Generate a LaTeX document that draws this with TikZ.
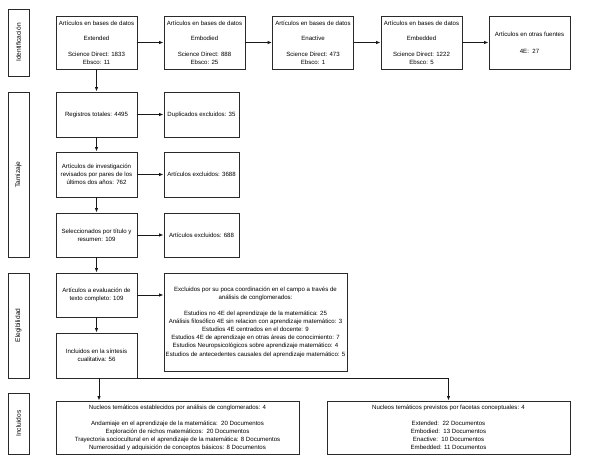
\documentclass[tikz,border=0pt]{standalone}
\usepackage{fontspec}
\setmainfont{Liberation Sans}
\usetikzlibrary{arrows.meta}
\definecolor{bordc}{HTML}{2A2A2A}
\begin{document}
\begin{tikzpicture}[x=1pt,y=-1pt,
  box/.style={draw=bordc,line width=0.9pt,inner sep=1pt,align=center,
    font=\fontsize{6.1}{7.8}\selectfont,text=black},
  sidebox/.style={draw=bordc,line width=0.9pt,inner sep=0pt,minimum width=21pt},
  sidelabel/.style={rotate=90,font=\fontsize{6.6}{8}\selectfont,text=black},
  conn/.style={draw=black!90,line width=0.9pt,-{Latex[length=4.5pt,width=3.5pt]}}]
\useasboundingbox (0,0) rectangle (589,470);
\fill[white] (0,0) rectangle (589,470);
% side boxes
\node[sidebox,minimum height=67pt] (sid) at (18.5,42.5) {};
\node[sidelabel] (sidt) at (sid.center) {Identificación};
\node[sidebox,minimum height=165pt] (stam) at (18.5,174.5) {};
\node[sidelabel] (stamt) at (stam.center) {Tamizaje};
\node[sidebox,minimum height=105pt] (seleg) at (18.5,325.5) {};
\node[sidelabel] (selegt) at (seleg.center) {Elegibilidad};
\node[sidebox,minimum height=61pt] (sinc) at (18.5,423.5) {};
\node[sidelabel] (sinct) at (sinc.center) {Incluidos};
% row 1
\tikzset{r1/.style={box,minimum width=81pt,minimum height=53pt}}
\node[r1] (e1) at (96.5,42.5) {Artículos en bases de datos\\[7.8pt]Extended\\[7.8pt]Science Direct: 1833\\Ebsco: 11};
\node[r1] (e2) at (204.5,42.5) {Artículos en bases de datos\\[7.8pt]Embodied\\[7.8pt]Science Direct: 888\\Ebsco: 25};
\node[r1] (e3) at (313,42.5) {Artículos en bases de datos\\[7.8pt]Enactive\\[7.8pt]Science Direct: 473\\Ebsco: 1};
\node[r1] (e4) at (421.5,42.5) {Artículos en bases de datos\\[7.8pt]Embedded\\[7.8pt]Science Direct: 1222\\Ebsco: 5};
\node[r1] (e5) at (529.5,42.5) {Artículos en otras fuentes\\[9pt]4E:~~27};
% screening
\tikzset{lb/.style={box,minimum width=81pt,minimum height=45pt},
         rb/.style={box,minimum width=75pt,minimum height=45pt}}
\node[lb] (reg) at (96.5,114.5) {Registros totales: 4495};
\node[rb] (dup) at (201.5,114.5) {Duplicados excluidos: 35};
\node[lb] (art) at (96.5,174.5) {Artículos de investigación\\revisados por pares de los\\últimos dos años: 762};
\node[rb] (ex1) at (201.5,174.5) {Artículos excluidos: 3688};
\node[lb,minimum height=44pt] (sel) at (96.5,235) {Seleccionados por título y\\resumen: 109};
\node[rb,minimum height=44pt] (ex2) at (201.5,235) {Artículos excluidos: 688};
% eligibility
\node[lb,minimum height=44pt] (eva) at (96.5,295) {Artículos a evaluación de\\texto completo: 109};
\node[lb] (inc) at (96.5,355.5) {Incluidos en la síntesis\\cualitativa: 56};
\node[box,minimum width=183pt,minimum height=98pt,font=\fontsize{6.1}{8.1}\selectfont] (ex3) at (255.5,322) {Excluidos por su poca coordinación en el campo a través de\\análisis de conglomerados:\\[8.1pt]Estudios no 4E del aprendizaje de la matemática: 25\\Análisis filosófico 4E sin relacion con aprendizaje matemático: 3\\Estudios 4E centrados en el docente: 9\\Estudios 4E de aprendizaje en otras áreas de conocimiento: 7\\Estudios Neuropsicológicos sobre aprendizaje matemático: 4\\Estudios de antecedentes causales del aprendizaje matemático: 5};
% included
\tikzset{bb/.style={box,minimum width=243pt,minimum height=53pt,font=\fontsize{6.1}{8}\selectfont}}
\node[bb] (nl) at (177.5,427.5) {Nucleos temáticos establecidos por análisis de conglomerados: 4\\[8pt]Andamiaje en el aprendizaje de la matemática:~~20 Documentos\\Exploración de nichos matemáticos:~~20 Documentos\\Trayectoria sociocultural en el aprendizaje de la matemática: 8 Documentos\\Numerosidad y adquisición de conceptos básicos: 8 Documentos};
\node[bb] (nr) at (448.5,427.5) {Nucleos temáticos previstos por facetas conceptuales: 4\\[8pt]Extended:~~22 Documentos\\Embodied:~~13 Documentos\\Enactive:~~10 Documentos\\Embedded: 11 Documentos};
% connectors
\draw[conn] (e1) -- (e2);
\draw[conn] (e2) -- (e3);
\draw[conn] (e3) -- (e4);
\draw[conn] (e4) -- (e5);
\draw[conn] (e1) -- (reg);
\draw[conn] (reg) -- (dup);
\draw[conn] (reg) -- (art);
\draw[conn] (art) -- (ex1);
\draw[conn] (art) -- (sel);
\draw[conn] (sel) -- (ex2);
\draw[conn] (sel) -- (eva);
\draw[conn] (eva.east) -- (eva.east -| ex3.west);
\draw[conn] (eva) -- (inc);
\draw[conn] ([xshift=2.5pt]inc.south) -- ([xshift=2.5pt]inc.south |- nl.north);
\draw[conn] (inc.south east) -| (nr.north);
\end{tikzpicture}
\end{document}
